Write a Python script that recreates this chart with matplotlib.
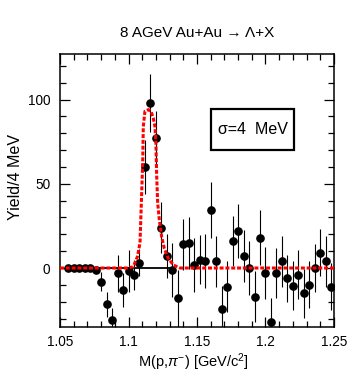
import numpy as np
import matplotlib
matplotlib.use("Agg")
import matplotlib.pyplot as plt
from matplotlib.patches import Rectangle

plt.rcParams['font.family'] = ['Liberation Sans', 'DejaVu Sans']
plt.rcParams['mathtext.fontset'] = 'custom'
plt.rcParams['mathtext.rm'] = 'Liberation Sans'
plt.rcParams['mathtext.it'] = 'Liberation Sans:italic'

# invariant mass bin centres (4 MeV bins)
mass = [1.056, 1.060, 1.064, 1.068, 1.072, 1.076, 1.080, 1.084, 1.088, 1.092,
        1.096, 1.100, 1.104, 1.108, 1.112, 1.116, 1.120, 1.124, 1.128, 1.132,
        1.136, 1.140, 1.144, 1.148, 1.152, 1.156, 1.160, 1.164, 1.168, 1.172,
        1.176, 1.180, 1.184, 1.188, 1.192, 1.196, 1.200, 1.204, 1.208, 1.212,
        1.216, 1.220, 1.224, 1.228, 1.232, 1.236, 1.240, 1.244, 1.248]
yields = [0, 0, 0, 0, 0, -1, -8, -21.5, -31, -3,
          -13, -2, -4, 3, 60, 98, 77, 24, 7, -1,
          -18, 14, 15, 2, 5, 4, 34.5, 4, -24.5, -11,
          16, 22, 7, 0, -17, 18, -3, -32, -3, 4,
          -6, -10.5, -4, -15, -10, 0, 9, 4, -11]
errors = [0, 0, 0, 0, 0, 0, 5.5, 7.5, 7, 11,
          10, 12.5, 9, 8, 16, 17, 16, 15, 13, 16,
          17, 15, 15.5, 16, 14.5, 16, 16.5, 15, 14, 15,
          15, 16, 15.5, 16, 15, 16.5, 15.5, 14, 15, 15,
          14, 14.5, 14.5, 14.5, 14, 14, 14, 15, 14]

# fitted signal curve
fit_x = [1.050, 1.100, 1.1035, 1.1065, 1.1084, 1.1096, 1.1104, 1.1108, 1.1120,
         1.1145, 1.1164, 1.1181, 1.1193, 1.1200, 1.1206, 1.1213, 1.1225, 1.1242,
         1.1261, 1.1290, 1.1327, 1.1376, 1.250]
fit_y = [0, 0, 0.8, 6.7, 15, 44, 64, 84, 93,
         94, 93, 89, 84, 74, 54, 38.5, 28.6, 18.6,
         11.7, 5.8, 1.8, 0, 0]

# background line under the peak
bg_x = [1.077, 1.133]
bg_y = [0, 0]

fig = plt.figure(figsize=(3.61, 3.85), dpi=100)
ax = fig.add_axes([60 / 361, 58 / 385, 274 / 361, 273 / 385])

ax.plot(bg_x, bg_y, color="black", lw=1.3, zorder=2)
ax.errorbar(mass, yields, yerr=errors, fmt="o", color="black", ms=5.2,
            elinewidth=0.8, capsize=0, zorder=3)
ax.plot(fit_x, fit_y, color="red", lw=2.2, dashes=(1.3, 0.6), zorder=4)

ax.set_xlim(1.05, 1.25)
ax.set_ylim(-35, 127)
ax.set_xticks([1.05, 1.1, 1.15, 1.2, 1.25])
ax.set_xticklabels(["1.05", "1.1", "1.15", "1.2", "1.25"])
ax.set_xticks(np.arange(1.05, 1.2501, 0.01), minor=True)
ax.set_yticks([0, 50, 100])
ax.set_yticks(np.arange(-30, 127, 10), minor=True)
ax.tick_params(which="both", direction="in", top=True, right=True,
               labelsize=9.8, width=0.9)
ax.tick_params(which="major", length=7)
ax.tick_params(which="minor", length=4)
ax.tick_params(axis="x", pad=6)
ax.tick_params(axis="y", pad=7)
for s in ax.spines.values():
    s.set_linewidth(1.1)

ax.set_xlabel(r"M(p,$\pi^{-}$) [GeV/c$^{2}$]", fontsize=10.5)
ax.xaxis.set_label_coords(0.487, -0.088)
ax.set_ylabel("Yield/4 MeV", fontsize=11.5)
ax.yaxis.set_label_coords(-0.135, 0.55)
ax.set_title("8 AGeV Au+Au \u2192 \u039b+X", fontsize=11, pad=12)

ax.add_patch(Rectangle((0.550, 0.648), 0.305, 0.151, transform=ax.transAxes,
                       fill=False, edgecolor="black", lw=1.6, zorder=5))
ax.text(0.7025, 0.7235, "\u03c3=4  MeV", transform=ax.transAxes,
        ha="center", va="center", fontsize=11.5)

fig.savefig("out.png", dpi=100)
